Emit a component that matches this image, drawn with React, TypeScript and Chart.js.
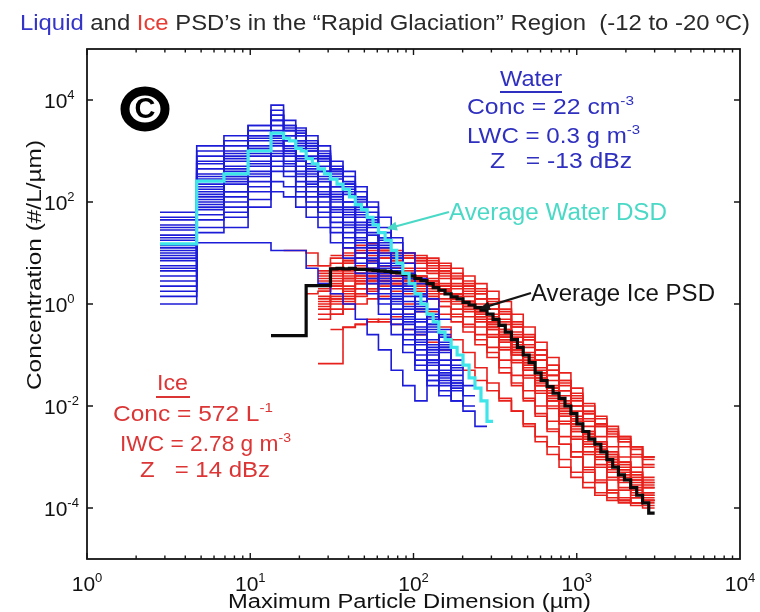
import { useEffect, useRef } from "react";
import { Chart, registerables } from "chart.js";

Chart.register(...registerables);

// ---------- DATA ----------
// Bin edges (µm) of the individual size distributions
const BIN_EDGES_UM = [2.8, 4.7, 6.9, 9.7, 13.4, 16, 19, 22, 26, 31, 37, 44, 52, 61, 73, 86, 102, 121, 143, 170, 201, 238, 282, 334, 398, 470, 556, 658, 779, 921, 1090, 1290, 1530, 1800, 2140, 2530, 3000];

// Finer bin edges (µm) used by the two average curves
const AVG_BIN_EDGES_UM = [2.8, 4.7, 6.9, 9.7, 13.4, 14.6, 16, 17.4, 19, 20.5, 22, 24, 26, 28.5, 31, 34, 37, 40.5, 44, 48, 52, 56.5, 61, 67, 73, 79, 86, 94, 102, 111, 121, 132, 143, 156, 170, 185, 201, 219, 238, 259, 282, 307, 334, 365, 398, 433, 470, 511, 556, 605, 658, 716, 779, 847, 921, 1002, 1090, 1186, 1290, 1405, 1530, 1660, 1800, 1960, 2140, 2330, 2530, 2760, 3000];

// Individual water (liquid) size distributions, log10(#/L/µm) per bin, starting at bin 0
const WATER_LOG10: number[][] = [
  [1.8, 3.1, 3.2, 3.5, 3.9, 3.5, 3.4, 3.3, 3.1, 2.8, 2.6, 2.3, 2.0, 1.7, 1.3, 1.0, 0.5, 0.1, -0.3],
  [1.7, 3.0, 3.3, 3.4, 3.8, 3.6, 3.45, 3.2, 3.0, 2.7, 2.5, 2.2, 1.9, 1.5, 1.2, 0.8, 0.4, -0.1, -0.5],
  [1.65, 2.9, 3.1, 3.5, 3.7, 3.4, 3.3, 3.15, 2.95, 2.65, 2.3, 2.1, 1.8, 1.4, 1.0, 0.6, 0.2, -0.2, -0.6],
  [1.5, 2.8, 3.0, 3.3, 3.6, 3.5, 3.2, 3.0, 2.8, 2.55, 2.35, 2.0, 1.6, 1.2, 0.8, 0.4, 0.0, -0.4, -0.8, -1.1],
  [1.45, 2.75, 2.9, 3.25, 3.6, 3.3, 3.15, 3.05, 2.9, 2.6, 2.2, 1.85, 1.5, 1.1, 0.7, 0.3, -0.1, -0.5, -0.9, -1.2],
  [1.35, 2.65, 2.8, 3.1, 3.5, 3.4, 3.05, 2.9, 2.7, 2.45, 2.15, 1.75, 1.55, 1.25, 0.9, 0.5, 0.15, -0.25, -0.65],
  [1.25, 2.55, 2.7, 3.05, 3.4, 3.2, 3.1, 2.85, 2.6, 2.3, 2.0, 1.8, 1.35, 0.95, 0.55, 0.15, -0.3, -0.7, -1.1, -1.4],
  [1.15, 2.45, 2.65, 3.0, 3.3, 3.1, 2.9, 2.7, 2.5, 2.2, 1.9, 1.6, 1.2, 0.8, 0.45, 0.05, -0.35, -0.8, -1.2],
  [1.05, 2.35, 2.5, 2.9, 3.3, 3.0, 2.8, 2.6, 2.4, 2.1, 1.8, 1.5, 1.1, 0.7, 0.3, -0.1, -0.5, -0.9, -1.3, -1.6],
  [0.95, 2.25, 2.4, 2.8, 3.2, 3.1, 2.9, 2.75, 2.6, 2.3, 2.0, 1.7, 1.4, 1.0, 0.65, 0.25, -0.15, -0.55, -0.95],
  [0.85, 2.15, 2.35, 2.7, 3.1, 3.0, 2.7, 2.5, 2.3, 2.0, 1.7, 1.4, 1.0, 0.6, 0.2, -0.25, -0.7, -1.1, -1.45],
  [0.75, 2.05, 2.2, 2.6, 3.0, 2.9, 2.6, 2.4, 2.2, 1.9, 1.6, 1.3, 0.9, 0.5, 0.1, -0.3, -0.6, -1.0, -1.4, -1.55],
  [0.65, 1.95, 2.1, 2.5, 2.9, 2.8, 2.5, 2.3, 2.1, 1.8, 1.5, 1.2, 0.8, 0.4, 0.0, -0.4, -0.8, -1.15],
  [0.55, 1.85, 2.0, 2.4, 2.8, 2.7, 2.4, 2.2, 2.0, 1.7, 1.4, 1.1, 0.7, 0.3, -0.1, -0.5, -0.9, -1.2, -1.5, -1.7],
  [0.45, 1.75, 1.9, 2.3, 2.7, 2.6, 2.3, 2.1, 1.9, 1.6, 1.3, 1.0, 0.6, 0.2, -0.2, -0.6, -1.0, -1.3, -1.55],
  [0.35, 1.65, 1.8, 2.2, 2.6, 2.5, 2.2, 2.0, 1.8, 1.5, 1.2, 0.9, 0.5, 0.1, -0.3, -0.7, -1.1, -1.4],
  [0.25, 1.5, 1.7, 2.05, 2.4, 2.3, 2.1, 1.9, 1.7, 1.4, 1.1, 0.8, 0.4, 0.0, -0.4, -0.8, -1.2, -1.5, -1.7, -1.9],
  [0.15, 1.4, 1.5, 1.9, 2.2, 2.1, 1.9, 1.7, 1.5, 1.2, 0.9, 0.6, 0.2, -0.2, -0.6, -0.95, -1.3, -1.6, -1.8],
  [0.0, 1.2, 1.2, 1.2, 1.05, 1.05, 1.05, 0.7, 0.4, 0.2, 0.0, -0.3, -0.6, -0.9, -1.3, -1.6, -1.9, -1.5, -1.6, -1.9, -2.1, -2.4],
  [1.1, 2.1, 2.95, 3.3, 3.5, 3.3, 3.2, 3.0, 2.85, 2.5, 2.25, 1.9, 1.55, 1.15, 0.75, 0.35, -0.05, -0.45, -0.85, -1.25, -1.6],
  [0.9, 1.9, 2.6, 2.75, 3.15, 2.95, 2.8, 2.55, 2.3, 2.05, 1.75, 1.45, 1.0, 0.55, 0.15, -0.2, -0.55, -0.95, -1.35, -1.55, -1.8],
  [1.55, 2.2, 2.5, 3.05, 3.3, 3.2, 3.35, 3.1, 2.85, 2.6, 2.4, 2.05, 1.7, 1.3, 0.95, 0.55, 0.15, -0.3, -0.75],
  [1.3, 2.5, 2.85, 3.2, 3.7, 3.45, 3.3, 3.1, 2.9, 2.65, 2.35, 2.05, 1.65, 1.3, 0.9, 0.5, 0.05, -0.4, -0.85, -1.3],
  [0.7, 2.3, 2.45, 2.95, 3.25, 3.05, 2.85, 2.65, 2.45, 2.15, 1.85, 1.55, 1.15, 0.75, 0.35, -0.05, -0.45, -0.85, -1.2, -1.5],
  [1.0, 2.0, 2.2, 2.55, 2.95, 2.75, 2.55, 2.35, 2.15, 1.85, 1.55, 1.25, 0.85, 0.45, 0.05, -0.35, -0.75, -1.1, -1.4, -1.65, -2.0],
];

// Individual ice PSDs: first bin index and log10 values
const ICE_START_BIN = [5, 8, 7, 8, 8, 8, 8, 7, 8, 8, 8, 8, 8, 9, 9, 8, 8, 9, 10, 8, 8, 8, 8, 9, 8, 8];
const ICE_LOG10: number[][] = [
  [1.05, 1.05, 1.0, 0.75, 0.9, 1.1, 1.15, 1.18, 1.1, 1.05, 1.0, 0.9, 0.8, 0.65, 0.5, 0.3, 0.1, -0.1, -0.3, -0.55, -0.8, -1.1, -1.4, -1.7, -2.0, -2.25, -2.4, -2.55, -2.7, -2.95, -3.2],
  [-1.17, -1.17, -0.46, -0.4, -0.3, -0.35, -0.4, -0.5, -0.6, -0.75, -0.9, -1.1, -1.3, -1.5, -1.7, -1.9, -2.1, -2.35, -2.6, -2.8, -3.05, -3.3, -3.5, -3.7, -3.8, -3.85, -3.9, -3.85],
  [0.75, 0.75, 0.8, 0.95, 1.0, 1.1, 1.05, 1.0, 0.95, 0.9, 0.85, 0.75, 0.6, 0.45, 0.3, 0.1, -0.1, -0.35, -0.6, -0.9, -1.2, -1.5, -1.8, -2.1, -2.35, -2.5, -2.65, -2.8, -3.0],
  [0.6, 0.65, 0.8, 0.9, 0.95, 0.9, 0.85, 0.8, 0.8, 0.7, 0.6, 0.5, 0.35, 0.2, 0.0, -0.2, -0.45, -0.7, -1.0, -1.3, -1.55, -1.85, -2.15, -2.4, -2.6, -2.8, -3.0, -3.15],
  [0.5, 0.55, 0.6, 0.7, 0.85, 0.9, 0.85, 0.8, 0.7, 0.65, 0.55, 0.4, 0.25, 0.1, -0.1, -0.35, -0.6, -0.85, -1.1, -1.4, -1.7, -2.0, -2.3, -2.6, -2.8, -3.0, -3.2, -3.4],
  [0.4, 0.5, 0.65, 0.75, 0.8, 0.75, 0.7, 0.7, 0.65, 0.6, 0.5, 0.35, 0.2, 0.0, -0.2, -0.4, -0.65, -0.95, -1.25, -1.5, -1.8, -2.1, -2.4, -2.7, -2.95, -3.15, -3.35, -3.5],
  [0.3, 0.4, 0.5, 0.6, 0.7, 0.75, 0.7, 0.6, 0.55, 0.5, 0.4, 0.3, 0.15, -0.05, -0.25, -0.5, -0.75, -1.0, -1.3, -1.6, -1.9, -2.2, -2.5, -2.75, -3.0, -3.2, -3.4, -3.6],
  [0.2, 0.25, 0.35, 0.5, 0.6, 0.65, 0.6, 0.55, 0.5, 0.45, 0.35, 0.25, 0.1, -0.05, -0.25, -0.45, -0.7, -0.95, -1.2, -1.5, -1.8, -2.05, -2.35, -2.6, -2.85, -3.05, -3.25, -3.45, -3.6],
  [0.1, 0.2, 0.35, 0.45, 0.55, 0.6, 0.6, 0.5, 0.45, 0.4, 0.3, 0.2, 0.05, -0.15, -0.35, -0.6, -0.85, -1.1, -1.4, -1.7, -2.0, -2.3, -2.6, -2.85, -3.1, -3.3, -3.5, -3.7],
  [0.0, 0.1, 0.25, 0.4, 0.5, 0.5, 0.45, 0.4, 0.35, 0.3, 0.2, 0.1, -0.05, -0.2, -0.4, -0.65, -0.9, -1.2, -1.5, -1.8, -2.1, -2.4, -2.7, -2.95, -3.2, -3.45, -3.65, -3.8],
  [-0.1, 0.0, 0.15, 0.3, 0.4, 0.45, 0.4, 0.35, 0.3, 0.25, 0.2, 0.05, -0.1, -0.3, -0.5, -0.75, -1.0, -1.3, -1.6, -1.9, -2.2, -2.5, -2.8, -3.05, -3.3, -3.5, -3.7, -3.85],
  [-0.2, -0.1, 0.05, 0.2, 0.3, 0.35, 0.35, 0.3, 0.25, 0.2, 0.1, 0.0, -0.15, -0.35, -0.6, -0.85, -1.1, -1.4, -1.7, -2.0, -2.3, -2.6, -2.9, -3.15, -3.4, -3.6, -3.75, -3.9],
  [-0.3, -0.2, 0.0, 0.15, 0.25, 0.3, 0.25, 0.2, 0.2, 0.15, 0.05, -0.1, -0.25, -0.45, -0.65, -0.9, -1.15, -1.45, -1.75, -2.05, -2.35, -2.65, -2.95, -3.2, -3.45, -3.65, -3.8],
  [0.7, 0.8, 0.9, 0.85, 0.75, 0.7, 0.65, 0.55, 0.45, 0.35, 0.2, 0.05, -0.15, -0.35, -0.6, -0.85, -1.15, -1.45, -1.75, -2.05, -2.3, -2.55, -2.75, -2.95, -3.1, -3.3, -3.5],
  [0.95, 1.0, 1.05, 1.1, 1.05, 0.95, 0.9, 0.85, 0.75, 0.65, 0.5, 0.35, 0.2, 0.0, -0.2, -0.45, -0.7, -1.0, -1.3, -1.6, -1.9, -2.15, -2.35, -2.5, -2.7, -2.85, -3.05],
  [0.45, 0.3, 0.2, 0.3, 0.5, 0.55, 0.5, 0.45, 0.4, 0.35, 0.25, 0.15, 0.0, -0.2, -0.45, -0.7, -0.95, -1.25, -1.55, -1.85, -2.15, -2.45, -2.75, -3.0, -3.25, -3.45, -3.6, -3.7],
  [0.65, 0.6, 0.55, 0.5, 0.45, 0.5, 0.55, 0.5, 0.45, 0.4, 0.3, 0.2, 0.05, -0.1, -0.3, -0.55, -0.8, -1.05, -1.35, -1.65, -1.95, -2.25, -2.55, -2.8, -3.05, -3.25, -3.45, -3.55],
  [-0.5, -0.45, -0.4, -0.35, -0.3, -0.25, -0.2, -0.15, -0.15, -0.2, -0.35, -0.55, -0.8, -1.05, -1.35, -1.6, -1.9, -2.2, -2.5, -2.75, -3.0, -3.3, -3.5, -3.7, -3.85, -3.9, -3.85],
  [0.85, 0.9, 1.0, 1.05, 1.0, 1.0, 0.95, 0.9, 0.8, 0.7, 0.55, 0.4, 0.25, 0.05, -0.2, -0.45, -0.75, -1.05, -1.35, -1.65, -1.95, -2.2, -2.4, -2.6, -2.8, -3.0],
  [0.25, 0.35, 0.45, 0.55, 0.6, 0.65, 0.6, 0.55, 0.5, 0.4, 0.3, 0.2, 0.05, -0.15, -0.4, -0.65, -0.9, -1.15, -1.45, -1.75, -2.05, -2.35, -2.65, -2.9, -3.15, -3.35, -3.55, -3.75],
  [0.15, 0.05, 0.1, 0.2, 0.3, 0.4, 0.45, 0.45, 0.4, 0.35, 0.25, 0.1, -0.05, -0.25, -0.5, -0.75, -1.0, -1.3, -1.6, -1.9, -2.2, -2.5, -2.75, -3.0, -3.2, -3.4],
  [-0.05, 0.1, 0.3, 0.45, 0.55, 0.6, 0.55, 0.5, 0.5, 0.45, 0.35, 0.2, 0.05, -0.1, -0.3, -0.5, -0.75, -1.05, -1.35, -1.65, -1.95, -2.25, -2.5, -2.7, -2.9, -3.1, -3.3, -3.45],
  [0.35, 0.45, 0.5, 0.55, 0.5, 0.45, 0.35, 0.3, 0.2, 0.1, -0.05, -0.2, -0.4, -0.6, -0.85, -1.1, -1.4, -1.7, -2.0, -2.3, -2.6, -2.9, -3.2, -3.45, -3.65, -3.8, -3.9, -3.95],
  [-0.2, -0.1, 0.0, 0.1, 0.15, 0.1, 0.0, -0.1, -0.25, -0.45, -0.7, -0.95, -1.25, -1.55, -1.85, -2.1, -2.4, -2.7, -2.95, -3.2, -3.4, -3.6, -3.75, -3.85, -3.9, -3.8, -3.75],
  [0.55, 0.7, 0.85, 1.0, 1.05, 1.0, 0.95, 0.9, 0.85, 0.8, 0.7, 0.55, 0.4, 0.25, 0.05, -0.15, -0.4, -0.65, -0.9, -1.2, -1.5, -1.75, -2.0, -2.25, -2.45, -2.6, -2.8, -3.0],
  [0.05, 0.15, 0.3, 0.4, 0.45, 0.45, 0.4, 0.3, 0.2, 0.1, -0.05, -0.25, -0.45, -0.7, -0.95, -1.25, -1.55, -1.85, -2.15, -2.45, -2.75, -3.0, -3.25, -3.5, -3.7, -3.85, -3.95, -4.0],
];

// Average water DSD on AVG_BIN_EDGES_UM, from bin 0
const AVG_WATER_LOG10 = [1.18, 2.41, 2.55, 3.0,
  3.35, 3.35, 3.25, 3.2, 3.05, 3.0, 2.85, 2.75, 2.65, 2.55, 2.45, 2.35, 2.25, 2.1, 1.95, 1.85, 1.7, 1.55, 1.4, 1.25,
  1.05, 0.8, 0.6, 0.4, 0.2, 0.0, -0.2, -0.35, -0.55, -0.7, -0.85, -1.0, -1.2, -1.45, -1.65, -1.9, -2.3];

// Average ice PSD on AVG_BIN_EDGES_UM, starting at bin 4 (13.4 µm)
const AVG_ICE_START_BIN = 4;
const AVG_ICE_LOG10 = [-0.62, -0.62, -0.62, -0.62, -0.62, -0.62, 0.36, 0.36, 0.36, 0.36,
  0.69, 0.7, 0.69, 0.7, 0.68, 0.68, 0.67, 0.66, 0.65, 0.64, 0.62, 0.61, 0.58, 0.55, 0.5, 0.46, 0.4, 0.32, 0.27, 0.2,
  0.14, 0.1, 0.03, -0.02, -0.07, -0.12, -0.2, -0.3, -0.42, -0.55, -0.7, -0.85, -1.0, -1.15, -1.35, -1.5, -1.62, -1.75,
  -1.85, -2.0, -2.15, -2.35, -2.5, -2.65, -2.75, -2.9, -3.05, -3.2, -3.35, -3.45, -3.6, -3.75, -3.9, -4.1];

const X_TICK_EXP = [0, 1, 2, 3, 4];
const Y_TICK_EXP = [-4, -2, 0, 2, 4];

// ---------- HELPERS ----------
function stepPoints(edges: number[], start: number, logs: number[]) {
  const pts: { x: number; y: number }[] = [];
  for (let i = 0; i < logs.length && start + i + 1 < edges.length; i++) {
    pts.push({ x: edges[start + i], y: Math.pow(10, logs[i]) });
  }
  const lastY = pts[pts.length - 1].y;
  pts.push({ x: edges[start + pts.length], y: lastY });
  return pts;
}

const FONT = "'Liberation Sans', Arial, sans-serif";
type Part = { t: string; c: string; sup?: boolean };

function measureParts(ctx: CanvasRenderingContext2D, parts: Part[], size: number) {
  return parts.map((p) => {
    ctx.font = `${p.sup ? size * 0.62 : size}px ${FONT}`;
    return ctx.measureText(p.t).width;
  });
}

function drawParts(ctx: CanvasRenderingContext2D, parts: Part[], x0: number, base: number, size: number, sx: number) {
  const ws = measureParts(ctx, parts, size);
  ctx.save();
  ctx.translate(x0, base);
  ctx.scale(sx, 1);
  ctx.textAlign = "left";
  ctx.textBaseline = "alphabetic";
  let x = 0;
  parts.forEach((p, i) => {
    ctx.font = `${p.sup ? size * 0.62 : size}px ${FONT}`;
    ctx.fillStyle = p.c;
    ctx.fillText(p.t, x, p.sup ? -size * 0.42 : 0);
    x += ws[i];
  });
  ctx.restore();
}

function fitParts(ctx: CanvasRenderingContext2D, parts: Part[], x0: number, x1: number, base: number, size: number) {
  const total = measureParts(ctx, parts, size).reduce((a, b) => a + b, 0);
  drawParts(ctx, parts, x0, base, size, (x1 - x0) / total);
}

function arrow(ctx: CanvasRenderingContext2D, x0: number, y0: number, x1: number, y1: number, color: string) {
  const ang = Math.atan2(y1 - y0, x1 - x0);
  const L = 11, W = 4.5;
  ctx.save();
  ctx.strokeStyle = color;
  ctx.fillStyle = color;
  ctx.lineWidth = 2.2;
  ctx.beginPath();
  ctx.moveTo(x0, y0);
  ctx.lineTo(x1 - Math.cos(ang) * L * 0.8, y1 - Math.sin(ang) * L * 0.8);
  ctx.stroke();
  ctx.beginPath();
  ctx.moveTo(x1, y1);
  ctx.lineTo(x1 - Math.cos(ang) * L - Math.sin(ang) * W, y1 - Math.sin(ang) * L + Math.cos(ang) * W);
  ctx.lineTo(x1 - Math.cos(ang) * L + Math.sin(ang) * W, y1 - Math.sin(ang) * L - Math.cos(ang) * W);
  ctx.closePath();
  ctx.fill();
  ctx.restore();
}

const WATER_TXT = "#2f2fc0";
const ICE_TXT = "#dc3535";

const decorPlugin = {
  id: "decor",
  beforeDraw(chart: any) {
    const ctx = chart.ctx as CanvasRenderingContext2D;
    ctx.save();
    ctx.fillStyle = "#ffffff";
    ctx.fillRect(0, 0, chart.width, chart.height);
    ctx.restore();
  },
  afterDraw(chart: any) {
    const ctx = chart.ctx as CanvasRenderingContext2D;
    const { left, right, top, bottom } = chart.chartArea;
    const xs = chart.scales.x;
    const ys = chart.scales.y;

    ctx.save();
    ctx.strokeStyle = "#151515";
    ctx.lineWidth = 1.8;
    ctx.strokeRect(left, top, right - left, bottom - top);

    ctx.lineWidth = 1.4;
    Y_TICK_EXP.forEach((e) => {
      const y = ys.getPixelForValue(Math.pow(10, e));
      ctx.beginPath();
      ctx.moveTo(left, y);
      ctx.lineTo(left + 6, y);
      ctx.moveTo(right, y);
      ctx.lineTo(right - 6, y);
      ctx.stroke();
    });
    for (let d = 0; d < 4; d++) {
      for (let m = 1; m <= 9; m++) {
        const x = xs.getPixelForValue(m * Math.pow(10, d));
        const len = m === 1 ? 6 : 3.5;
        ctx.beginPath();
        ctx.moveTo(x, bottom);
        ctx.lineTo(x, bottom - len);
        ctx.moveTo(x, top);
        ctx.lineTo(x, top + len);
        ctx.stroke();
      }
    }
    ctx.restore();

    Y_TICK_EXP.forEach((e) => {
      const y = ys.getPixelForValue(Math.pow(10, e));
      drawParts(ctx, [{ t: "10", c: "#111" }, { t: String(e), c: "#111", sup: true }], 44, y + 8, 21, 1);
    });
    X_TICK_EXP.forEach((e) => {
      const x = xs.getPixelForValue(Math.pow(10, e));
      const parts: Part[] = [{ t: "10", c: "#111" }, { t: String(e), c: "#111", sup: true }];
      const w = measureParts(ctx, parts, 21).reduce((a, b) => a + b, 0);
      drawParts(ctx, parts, x - w / 2, 591, 21, 1);
    });

    fitParts(ctx, [{ t: "Maximum Particle Dimension (µm)", c: "#111" }], 228, 591, 608, 20);
    ctx.save();
    ctx.translate(41, 265);
    ctx.rotate(-Math.PI / 2);
    fitParts(ctx, [{ t: "Concentration (#/L/µm)", c: "#111" }], -125, 125, 0, 20);
    ctx.restore();

    fitParts(
      ctx,
      [
        { t: "Liquid", c: "#3434c8" },
        { t: " and ", c: "#2a2a2a" },
        { t: "Ice", c: "#e63c34" },
        { t: " PSD’s in the “Rapid Glaciation” Region  (-12 to -20 ºC)", c: "#2a2a2a" },
      ],
      20,
      750,
      30,
      22
    );

    // circled c
    ctx.save();
    ctx.strokeStyle = "#000";
    ctx.lineWidth = 9;
    ctx.beginPath();
    ctx.ellipse(145, 109, 20, 18, 0, 0, Math.PI * 2);
    ctx.stroke();
    ctx.fillStyle = "#000";
    ctx.font = `bold 29px ${FONT}`;
    ctx.textAlign = "center";
    ctx.textBaseline = "middle";
    ctx.fillText("C", 145, 110);
    ctx.restore();

    // water block
    fitParts(ctx, [{ t: "Water", c: WATER_TXT }], 500, 562, 86, 22);
    ctx.save();
    ctx.strokeStyle = WATER_TXT;
    ctx.lineWidth = 2;
    ctx.beginPath();
    ctx.moveTo(500, 92);
    ctx.lineTo(562, 92);
    ctx.stroke();
    ctx.restore();
    fitParts(ctx, [{ t: "Conc = 22 cm", c: WATER_TXT }, { t: "-3", c: WATER_TXT, sup: true }], 467, 634, 114, 22);
    fitParts(ctx, [{ t: "LWC = 0.3 g m", c: WATER_TXT }, { t: "-3", c: WATER_TXT, sup: true }], 467, 640, 143, 22);
    fitParts(ctx, [{ t: "Z   = -13 dBz", c: WATER_TXT }], 490, 632, 168, 22);

    // ice block
    fitParts(ctx, [{ t: "Ice", c: ICE_TXT }], 157, 188, 390, 22);
    ctx.save();
    ctx.strokeStyle = ICE_TXT;
    ctx.lineWidth = 2;
    ctx.beginPath();
    ctx.moveTo(156, 397);
    ctx.lineTo(190, 397);
    ctx.stroke();
    ctx.restore();
    fitParts(ctx, [{ t: "Conc = 572 L", c: ICE_TXT }, { t: "-1", c: ICE_TXT, sup: true }], 113, 273, 421, 22);
    fitParts(ctx, [{ t: "IWC = 2.78 g m", c: ICE_TXT }, { t: "-3", c: ICE_TXT, sup: true }], 120, 291, 451, 22);
    fitParts(ctx, [{ t: "Z   = 14 dBz", c: ICE_TXT }], 140, 270, 477, 22);

    const aqua = "#4ad9c6";
    fitParts(ctx, [{ t: "Average Water DSD", c: aqua }], 449, 667, 220, 23);
    arrow(ctx, 449, 212, 386, 229, aqua);
    fitParts(ctx, [{ t: "Average Ice PSD", c: "#151515" }], 531, 715, 301, 24);
    arrow(ctx, 531, 293, 479, 309, "#151515");
  },
};

export default function App() {
  const ref = useRef<HTMLCanvasElement | null>(null);

  useEffect(() => {
    if (!ref.current) return;
    const datasets: any[] = [];
    datasets.push({
      data: stepPoints(AVG_BIN_EDGES_UM, 0, AVG_WATER_LOG10),
      borderColor: "#3ee6ea",
      borderWidth: 3.2,
      order: 0,
    });
    datasets.push({
      data: stepPoints(AVG_BIN_EDGES_UM, AVG_ICE_START_BIN, AVG_ICE_LOG10),
      borderColor: "#0a0a0a",
      borderWidth: 3.2,
      order: 1,
    });
    WATER_LOG10.forEach((s) => {
      datasets.push({ data: stepPoints(BIN_EDGES_UM, 0, s), borderColor: "#1c1cd8", borderWidth: 1.6, order: 2 });
    });
    ICE_LOG10.forEach((s, i) => {
      datasets.push({ data: stepPoints(BIN_EDGES_UM, ICE_START_BIN[i], s), borderColor: "#e8201c", borderWidth: 1.6, order: 3 });
    });
    datasets.forEach((d) => {
      d.stepped = true;
      d.pointRadius = 0;
      d.fill = false;
      d.tension = 0;
    });

    const chart = new Chart(ref.current, {
      type: "line",
      data: { datasets },
      options: {
        animation: false,
        responsive: false,
        devicePixelRatio: 1,
        events: [],
        layout: { padding: { left: 87, top: 49, right: 20, bottom: 53 } },
        scales: {
          x: { type: "logarithmic", min: 1, max: 10000, display: false },
          y: { type: "logarithmic", min: 1e-5, max: 1e5, display: false },
        },
        plugins: { legend: { display: false }, tooltip: { enabled: false } },
      },
      plugins: [decorPlugin],
    } as any);
    return () => chart.destroy();
  }, []);

  return (
    <div style={{ position: "fixed", left: 0, top: 0, width: 760, height: 612, background: "#fff" }}>
      <canvas ref={ref} width={760} height={612} style={{ display: "block", width: 760, height: 612 }} />
    </div>
  );
}
